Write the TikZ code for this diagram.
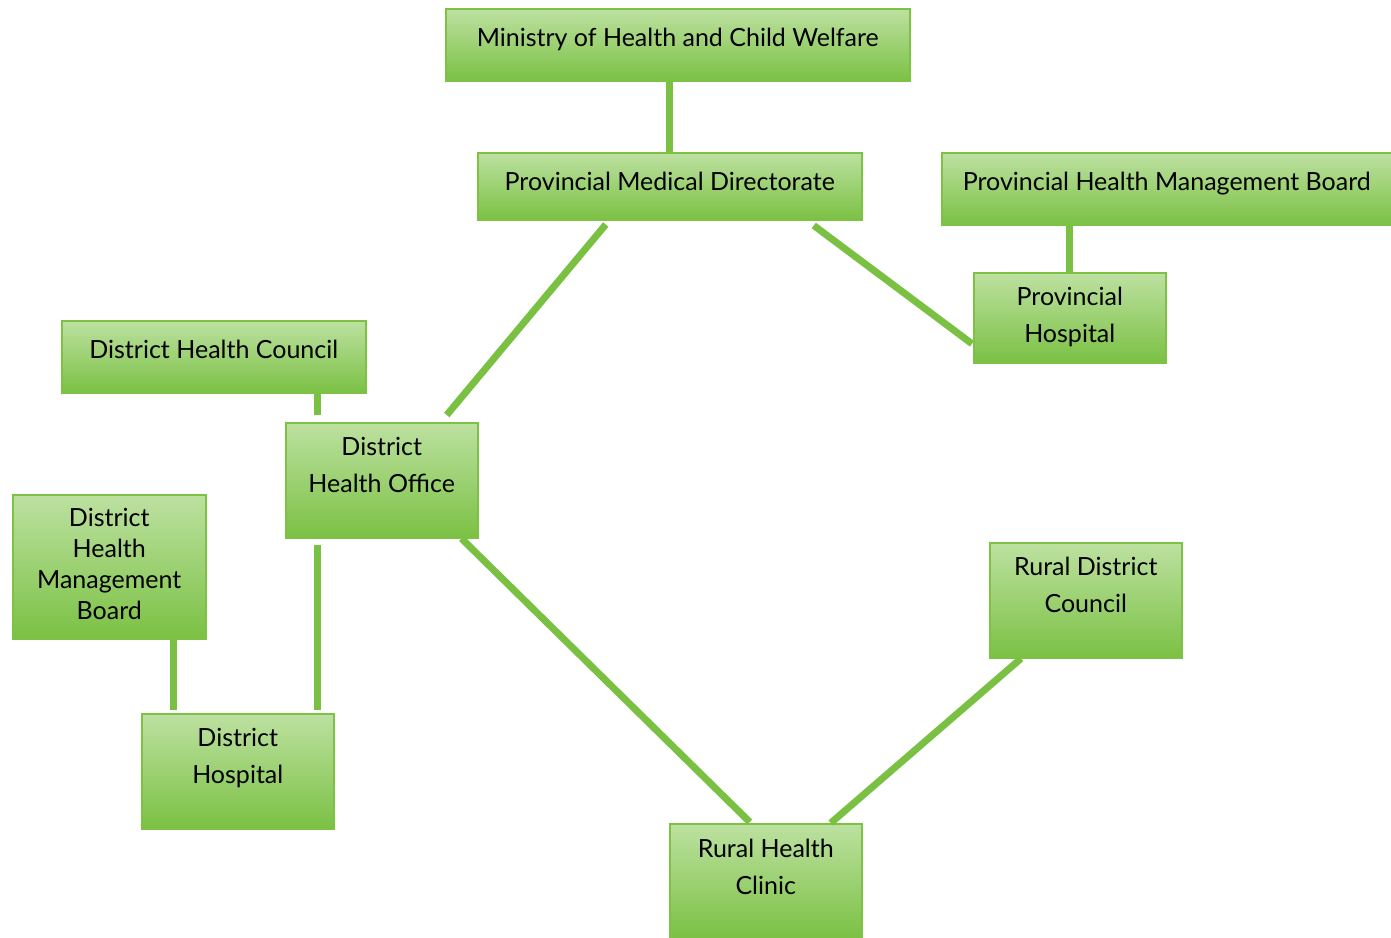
\documentclass[tikz,border=0pt]{standalone}
\usepackage{fontspec}
\setmainfont{Lato}
\usetikzlibrary{calc}
\definecolor{boxtop}{HTML}{BDE1A1}
\definecolor{boxbot}{HTML}{7BC144}
\definecolor{boxline}{HTML}{7DC243}
\definecolor{linkgreen}{HTML}{7AC143}
\tikzset{
  unit/.style={draw=boxline, line width=1.5pt, top color=boxtop, bottom color=boxbot,
    anchor=north west, inner xsep=0pt, inner ysep=0pt, align=center,
    font=\fontsize{25}{37}\selectfont},
  link/.style={draw=linkgreen, line width=7pt}
}
\begin{document}
\begin{tikzpicture}[x=1pt,y=-1pt]
\useasboundingbox (0,0) rectangle (1391,937);
% boxes
\node[unit, minimum width=464pt, text height=38pt, text depth=34pt] (min) at (445,8) {Ministry of Health and Child Welfare};
\node[unit, minimum width=384pt, text height=38pt, text depth=29pt] (pmd) at (477,152) {Provincial Medical Directorate};
\node[unit, minimum width=450pt, text height=38pt, text depth=34pt] (phmb) at (941,152) {Provincial Health Management Board};
\node[unit, minimum width=192pt, text height=70pt, text depth=20pt] (phosp) at (973,272) {Provincial\\Hospital};
\node[unit, minimum width=304pt, text height=38pt, text depth=34pt] (dhc) at (61,320) {District Health Council};
\node[unit, minimum width=192pt, text height=70pt, text depth=45pt] (dho) at (285,422) {District\\Health Office};
\node[unit, minimum width=193pt, text height=125pt, text depth=19pt, font=\fontsize{25}{31}\selectfont] (dhmb) at (12,494) {District\\Health\\Management\\Board};
\node[unit, minimum width=192pt, text height=70pt, text depth=45pt] (dhosp) at (141,713) {District\\Hospital};
\node[unit, minimum width=192pt, text height=70pt, text depth=45pt] (rdc) at (989,542) {Rural District\\Council};
\node[unit, minimum width=192pt, text height=71pt, text depth=43pt] (rhc) at (669,823) {Rural Health\\Clinic};
% connector end points
\coordinate (dhoTop) at ($(dho.north west)+(32,-7)$);
\coordinate (dhoBot) at ($(dho.south west)+(32,6)$);
\coordinate (dhospTopR) at ($(dhosp.north west)+(176,-3)$);
\coordinate (dhospTopL) at ($(dhosp.north west)+(32,-3)$);
% connectors
\draw[link] (pmd.north) -- (pmd.north |- min.south);
\draw[link] (phosp.north) -- (phosp.north |- phmb.south);
\draw[link] ($(pmd.south)+(-64,4)$) -- ($(dho.north)+(65,-7)$);
\draw[link] ($(pmd.south)+(144,5)$) -- ($(phosp.west)+(-1,26)$);
\draw[link] (dhoTop) -- (dhoTop |- dhc.south);
\draw[link] (dhoBot) -- (dhospTopR);
\draw[link] (dhospTopL) -- (dhospTopL |- dhmb.south);
\draw[link] ($(dho.south east)+(-17,0)$) -- ($(rhc.north)+(-16,-1)$);
\draw[link] ($(rdc.south west)+(32,0)$) -- ($(rhc.north)+(65,0)$);
\end{tikzpicture}
\end{document}
